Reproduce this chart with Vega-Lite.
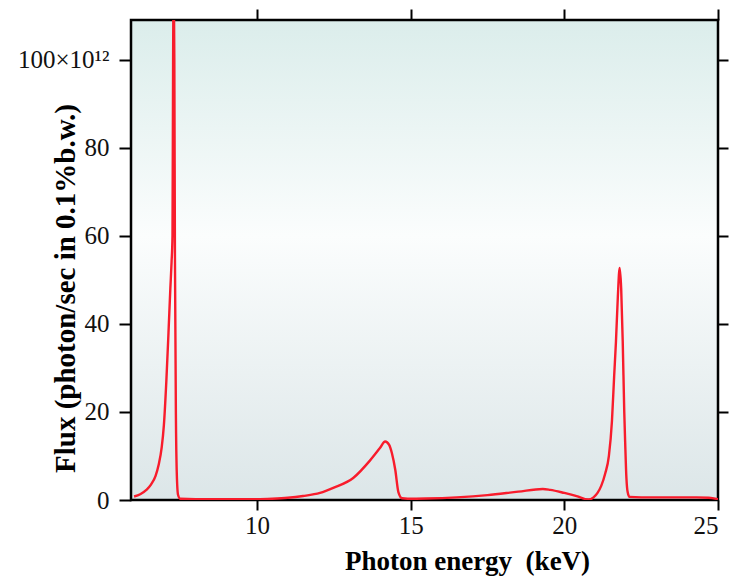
{
  "$schema": "https://vega.github.io/schema/vega-lite/v6.json",
  "width": 587,
  "height": 480,
  "autosize": "none",
  "padding": {"left": 131, "top": 20, "right": 11, "bottom": 81},
  "background": "white",
  "config": {
    "view": {
      "stroke": "black",
      "strokeWidth": 2.5,
      "fill": {
        "gradient": "linear",
        "x1": 0, "y1": 0, "x2": 0, "y2": 1,
        "stops": [
          {"offset": 0, "color": "#dbedeb"},
          {"offset": 0.45, "color": "#fbfdfd"},
          {"offset": 1, "color": "#dce6e8"}
        ]
      }
    },
    "axis": {
      "domain": false,
      "grid": false,
      "tickColor": "black",
      "tickWidth": 2,
      "labelFont": "Liberation Serif",
      "labelFontSize": 25,
      "labelColor": "#111111",
      "titleFont": "Liberation Serif",
      "titleFontSize": 27,
      "titleFontWeight": "bold",
      "titleColor": "black"
    }
  },
  "data": {
    "values": [
      {"energy": 6.0, "flux": 0.8},
      {"energy": 6.2, "flux": 1.3},
      {"energy": 6.4, "flux": 2.3},
      {"energy": 6.55, "flux": 3.5},
      {"energy": 6.7, "flux": 5.5},
      {"energy": 6.8, "flux": 8},
      {"energy": 6.9, "flux": 12},
      {"energy": 6.97, "flux": 17},
      {"energy": 7.05, "flux": 27},
      {"energy": 7.12, "flux": 38},
      {"energy": 7.18, "flux": 48},
      {"energy": 7.22, "flux": 54},
      {"energy": 7.25, "flux": 60},
      {"energy": 7.27, "flux": 100},
      {"energy": 7.29, "flux": 120},
      {"energy": 7.31, "flux": 100},
      {"energy": 7.33, "flux": 55},
      {"energy": 7.36, "flux": 20},
      {"energy": 7.39, "flux": 6},
      {"energy": 7.43, "flux": 1.2},
      {"energy": 7.5, "flux": 0.3},
      {"energy": 8.0, "flux": 0.2},
      {"energy": 9.0, "flux": 0.2},
      {"energy": 10.0, "flux": 0.2},
      {"energy": 10.5, "flux": 0.3},
      {"energy": 11.0, "flux": 0.5},
      {"energy": 11.5, "flux": 0.9},
      {"energy": 12.05, "flux": 1.6},
      {"energy": 12.5, "flux": 2.8},
      {"energy": 13.13, "flux": 5},
      {"energy": 13.68, "flux": 9},
      {"energy": 14.0, "flux": 11.8},
      {"energy": 14.17, "flux": 13.3},
      {"energy": 14.3, "flux": 12.5},
      {"energy": 14.39, "flux": 10.6},
      {"energy": 14.5, "flux": 6.8},
      {"energy": 14.6, "flux": 1.8},
      {"energy": 14.72, "flux": 0.4},
      {"energy": 14.9, "flux": 0.3},
      {"energy": 15.5, "flux": 0.35},
      {"energy": 16.5, "flux": 0.6},
      {"energy": 17.5, "flux": 1.1},
      {"energy": 18.5, "flux": 1.9},
      {"energy": 19.3, "flux": 2.5},
      {"energy": 19.54, "flux": 2.3},
      {"energy": 20.0, "flux": 1.6},
      {"energy": 20.4, "flux": 0.9},
      {"energy": 20.78, "flux": 0.1},
      {"energy": 20.95, "flux": 0.6},
      {"energy": 21.08, "flux": 1.6},
      {"energy": 21.2, "flux": 3.2},
      {"energy": 21.33, "flux": 6},
      {"energy": 21.45, "flux": 10},
      {"energy": 21.55, "flux": 18},
      {"energy": 21.62, "flux": 28},
      {"energy": 21.68, "flux": 36},
      {"energy": 21.74, "flux": 46},
      {"energy": 21.8, "flux": 52.7},
      {"energy": 21.85, "flux": 48},
      {"energy": 21.9, "flux": 36},
      {"energy": 21.95, "flux": 20},
      {"energy": 21.98, "flux": 13},
      {"energy": 22.02, "flux": 5},
      {"energy": 22.06, "flux": 1.8},
      {"energy": 22.12, "flux": 0.7},
      {"energy": 22.5, "flux": 0.6},
      {"energy": 23.5, "flux": 0.6},
      {"energy": 24.3, "flux": 0.6},
      {"energy": 24.7, "flux": 0.5},
      {"energy": 25.0, "flux": 0.2}
    ]
  },
  "layer": [
    {
      "mark": {"type": "line", "color": "#f81c2c", "strokeWidth": 2.4, "interpolate": "monotone", "clip": true},
      "encoding": {
        "x": {
          "field": "energy", "type": "quantitative",
          "scale": {"domain": [5.9, 25], "nice": false, "zero": false},
          "axis": {
            "orient": "bottom", "values": [10, 15, 20, 25], "tickSize": 10,
            "labelPadding": 3, "title": "Photon energy\u00a0\u00a0(keV)", "titlePadding": 10,
            "titleX": 336, "titleAnchor": "middle", "titleAlign": "center"
          }
        },
        "y": {
          "field": "flux", "type": "quantitative",
          "scale": {"domain": [0, 109], "nice": false},
          "axis": {
            "orient": "left", "values": [0, 20, 40, 60, 80, 100], "tickSize": 12,
            "labelPadding": 10,
            "labelExpr": "datum.value == 100 ? '100×10¹²' : datum.label",
            "title": "Flux (photon/sec in 0.1%b.w.)",
            "titleFontSize": 29,
            "titleX": -66, "titleY": 268, "titleAngle": -90,
            "titleAlign": "center", "titleBaseline": "middle"
          }
        }
      }
    },
    {
      "mark": {"type": "line", "opacity": 0},
      "encoding": {
        "x": {
          "field": "energy", "type": "quantitative",
          "scale": {"domain": [5.9, 25], "nice": false, "zero": false},
          "axis": {"orient": "top", "values": [10, 15, 20, 25], "tickSize": 11, "labels": false, "title": null}
        },
        "y": {
          "field": "flux", "type": "quantitative",
          "scale": {"domain": [0, 109], "nice": false},
          "axis": {"orient": "right", "values": [20, 40, 60, 80, 100], "tickSize": 10, "labels": false, "title": null}
        }
      }
    }
  ],
  "resolve": {"axis": {"x": "independent", "y": "independent"}}
}
